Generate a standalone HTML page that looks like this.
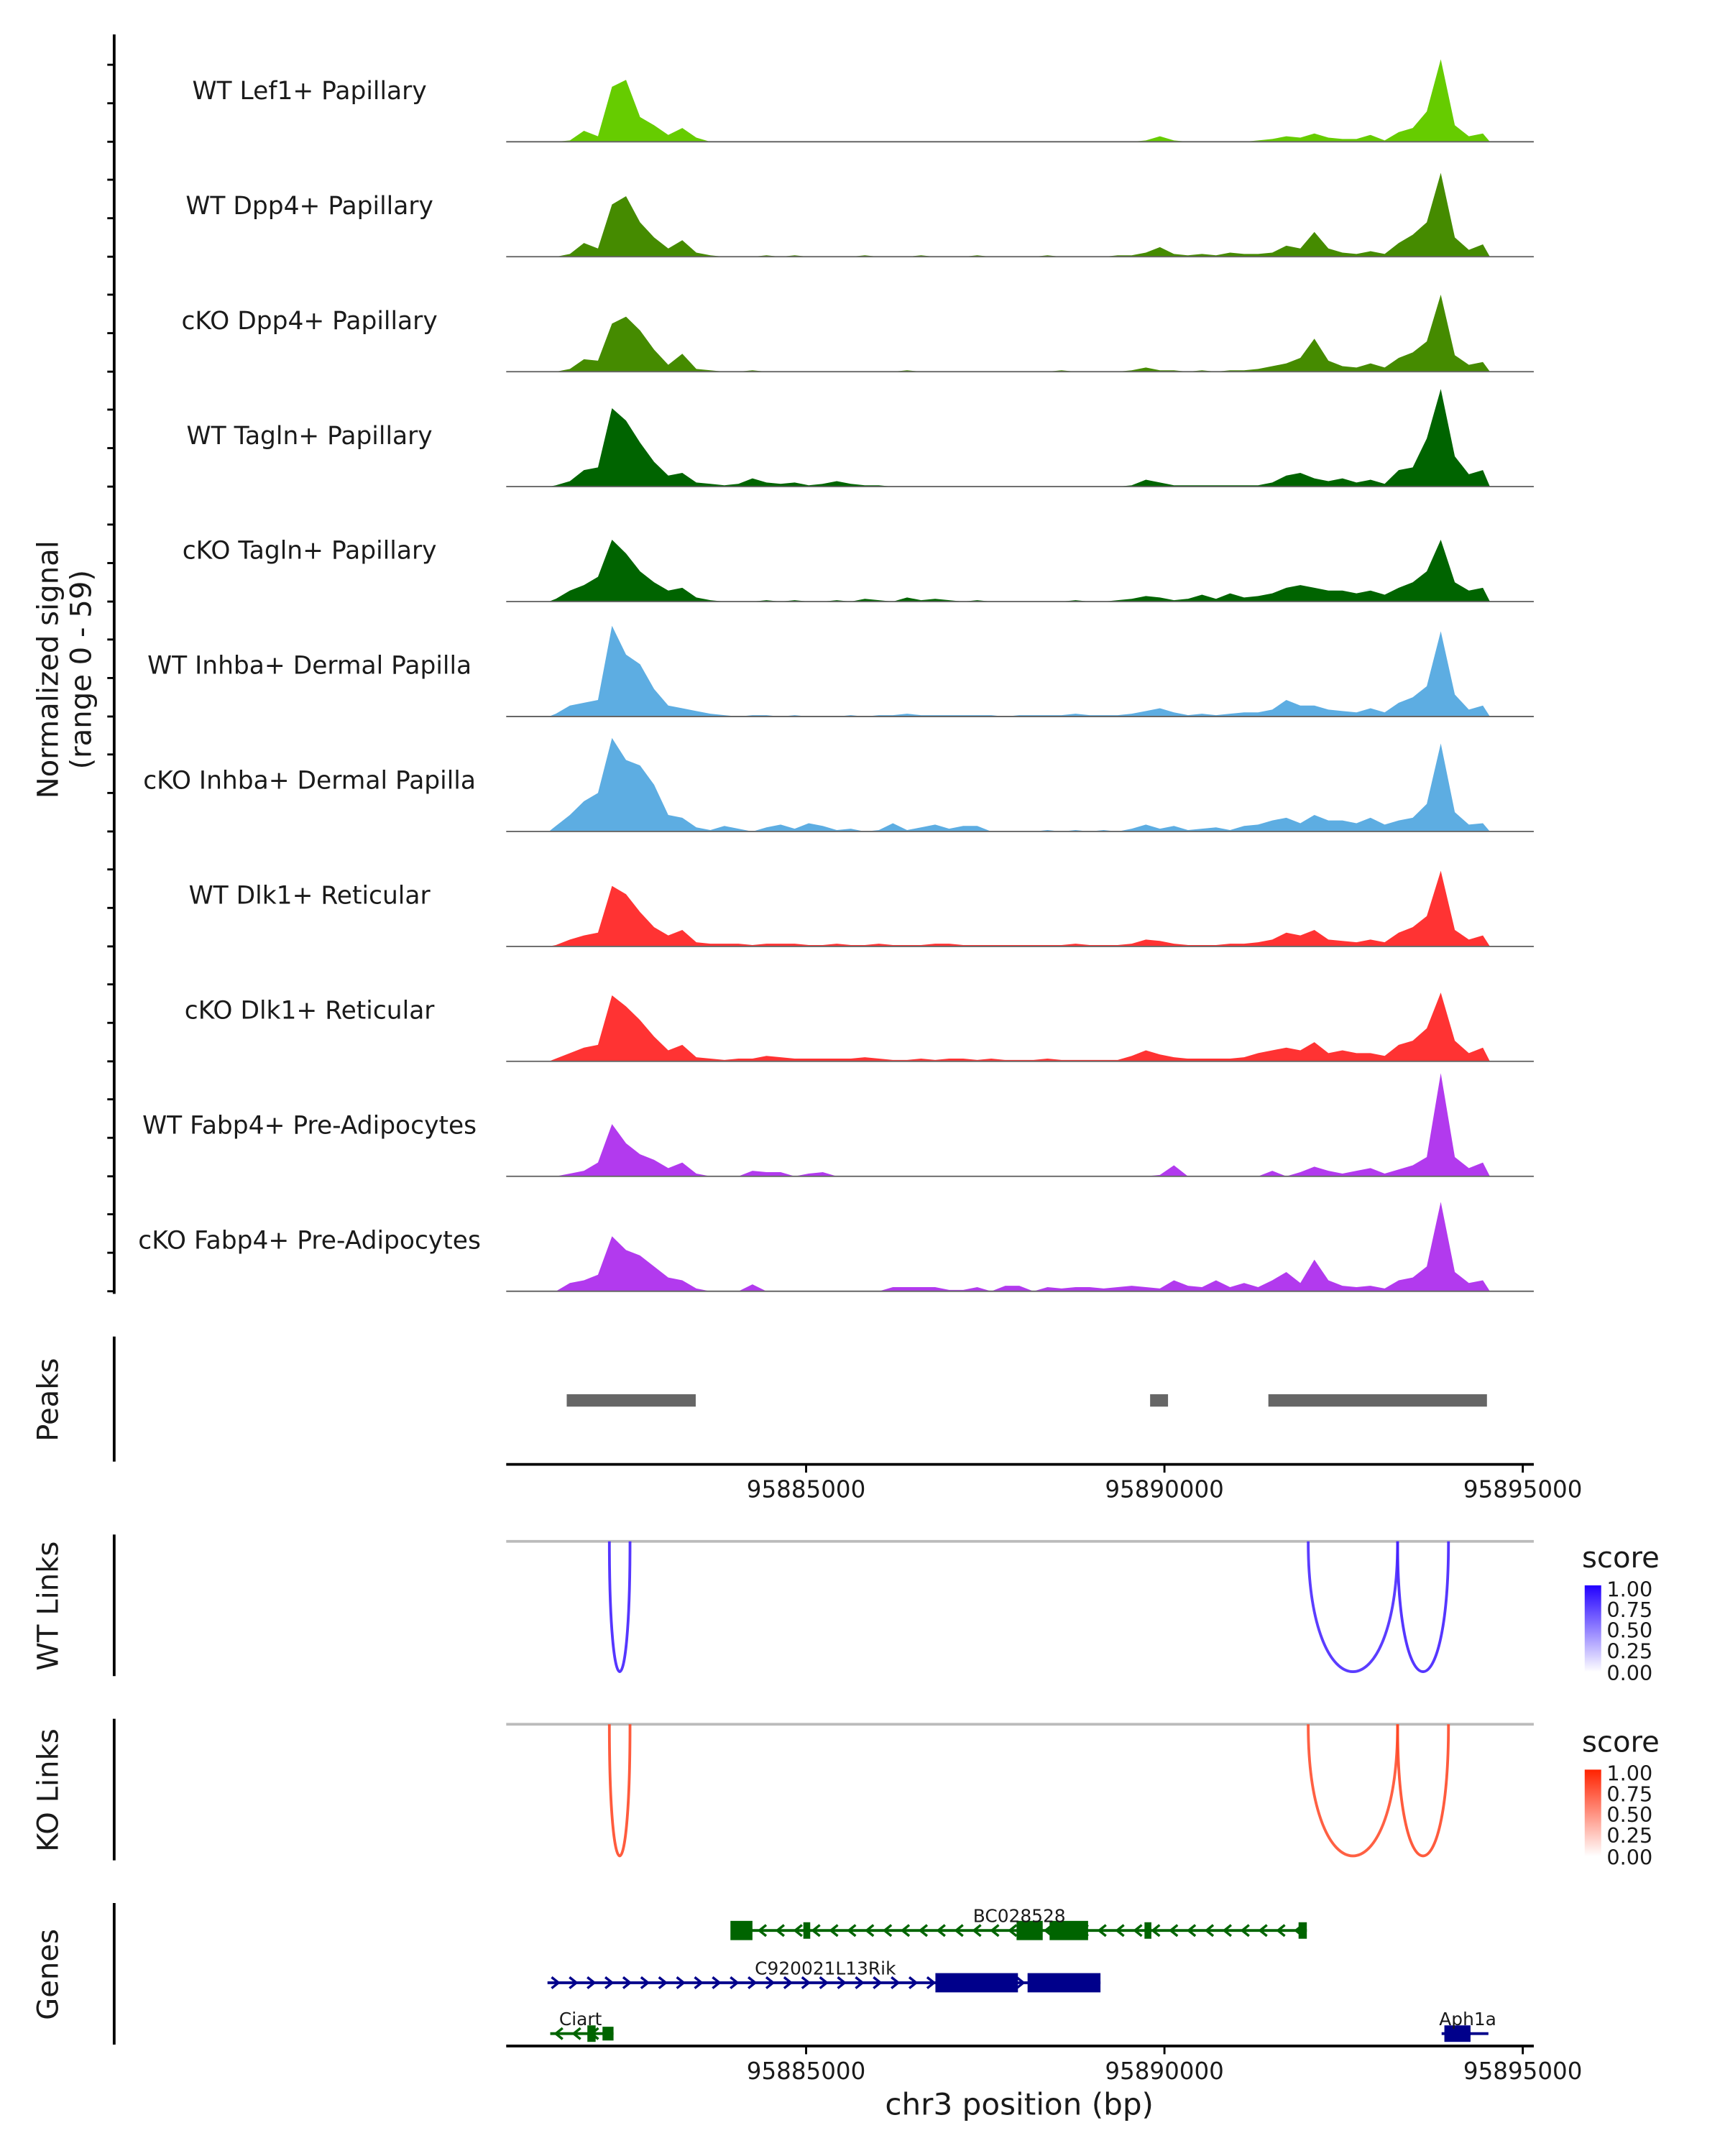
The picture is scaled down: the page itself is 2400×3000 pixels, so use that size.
<!DOCTYPE html>
<html><head><meta charset="utf-8"><style>
html,body{margin:0;padding:0;background:#fff}
svg{display:block}
text{font-family:"DejaVu Sans","Liberation Sans",sans-serif;fill:#1a1a1a}
</style></head><body>
<svg id="chart" width="2400" height="3000" viewBox="0 0 1254 1568" preserveAspectRatio="none" xmlns="http://www.w3.org/2000/svg">
<defs>
<linearGradient id="gWT" x1="0" y1="1" x2="0" y2="0"><stop offset="0" stop-color="#ffffff"/><stop offset="1" stop-color="#2200ff"/></linearGradient>
<linearGradient id="gKO" x1="0" y1="1" x2="0" y2="0"><stop offset="0" stop-color="#ffffff"/><stop offset="1" stop-color="#ff2200"/></linearGradient>
</defs>
<g id="tracks"></g>
<g id="static">
<text transform="translate(42,487) rotate(-90)" text-anchor="middle" font-size="21">Normalized signal</text>
<text transform="translate(66,487) rotate(-90)" text-anchor="middle" font-size="21">(range 0 - 59)</text>
<line x1="83" y1="25" x2="83" y2="941" stroke="#000" stroke-width="2"/>
<text transform="translate(42,1018) rotate(-90)" text-anchor="middle" font-size="21">Peaks</text>
<line x1="83" y1="972" x2="83" y2="1063" stroke="#000" stroke-width="2"/>
<text transform="translate(42,1168) rotate(-90)" text-anchor="middle" font-size="21">WT Links</text>
<line x1="83" y1="1116" x2="83" y2="1219" stroke="#000" stroke-width="2"/>
<text transform="translate(42,1302) rotate(-90)" text-anchor="middle" font-size="21">KO Links</text>
<line x1="83" y1="1250" x2="83" y2="1353" stroke="#000" stroke-width="2"/>
<text transform="translate(42,1436) rotate(-90)" text-anchor="middle" font-size="21">Genes</text>
<line x1="83" y1="1384" x2="83" y2="1487" stroke="#000" stroke-width="2"/>
<line x1="368" y1="1121" x2="1115" y2="1121" stroke="#bbb" stroke-width="2"/>
<line x1="368" y1="1254" x2="1115" y2="1254" stroke="#bbb" stroke-width="2"/>
<g>
<text x="1150" y="1140" font-size="21">score</text>
<rect x="1152" y="1153" width="12" height="63" fill="url(#gWT)"/>
<text x="1168" y="1161" font-size="15">1.00</text><text x="1168" y="1176" font-size="15">0.75</text><text x="1168" y="1191" font-size="15">0.50</text><text x="1168" y="1206" font-size="15">0.25</text><text x="1168" y="1222" font-size="15">0.00</text>
</g>
<g>
<text x="1150" y="1274" font-size="21">score</text>
<rect x="1152" y="1287" width="12" height="63" fill="url(#gKO)"/>
<text x="1168" y="1295" font-size="15">1.00</text><text x="1168" y="1310" font-size="15">0.75</text><text x="1168" y="1325" font-size="15">0.50</text><text x="1168" y="1340" font-size="15">0.25</text><text x="1168" y="1356" font-size="15">0.00</text>
</g>
<text x="741" y="1538" text-anchor="middle" font-size="22">chr3 position (bp)</text>
</g>
<g id="dyn"></g>
</svg>
<script>
const trackNames = ["WT Lef1+ Papillary","WT Dpp4+ Papillary","cKO Dpp4+ Papillary","WT Tagln+ Papillary","cKO Tagln+ Papillary","WT Inhba+ Dermal Papilla","cKO Inhba+ Dermal Papilla","WT Dlk1+ Reticular","cKO Dlk1+ Reticular","WT Fabp4+ Pre-Adipocytes","cKO Fabp4+ Pre-Adipocytes"];
const trackColors = ["#66cc00","#458b00","#458b00","#006400","#006400","#5dade2","#5dade2","#ff3333","#ff3333","#b23aee","#b23aee"];
const binStart = 95881410;
const binSize = 196;
const sigLef1WT = [0,1,8,4,40,45,18,12,5,10, 3,0,0,0,0,0,0,0,0,0, 0,0,0,0,0,0,0,0,0,0, 0,0,0,0,0,0,0,0,0,0, 0,0,1,4,1,0,0,0,0,0, 1,2,4,3,6,3,2,2,5,1, 7,10,22,60,12,4,6];
const sigDpp4WT = [0,2,10,6,38,44,25,14,6,12, 3,1,0,0,0,1,0,1,0,0, 0,0,1,0,0,0,1,0,0,0, 1,0,0,0,0,1,0,0,0,0, 1,1,3,7,2,1,2,1,3,2, 2,3,8,6,18,6,3,2,4,2, 10,16,25,61,14,5,9];
const sigDpp4KO = [0,2,9,8,35,40,30,16,5,13, 2,1,0,0,1,0,0,0,0,0, 0,0,0,0,0,1,0,0,0,0, 0,0,0,0,0,0,1,0,0,0, 0,1,3,1,1,0,1,0,1,1, 2,4,6,10,24,8,4,3,6,3, 10,14,22,56,12,5,7];
const sigTaglnWT = [1,4,12,14,57,48,32,18,8,10, 3,2,1,2,6,3,2,3,1,2, 4,2,1,1,0,0,0,0,0,0, 0,0,0,0,0,0,0,0,0,0, 0,1,5,3,1,1,1,1,1,1, 1,3,8,10,6,4,6,3,5,2, 12,14,35,71,22,9,12];
const sigTaglnKO = [2,8,12,18,45,35,22,14,8,10, 3,1,0,0,0,1,0,1,0,0, 1,0,2,1,0,3,1,2,1,0, 1,0,0,0,0,0,0,1,0,0, 1,2,4,3,1,2,5,2,6,3, 4,6,10,12,10,8,8,6,8,5, 10,14,22,45,14,8,10];
const sigInhbaWT = [2,8,10,12,66,45,38,20,8,6, 4,2,1,0,1,1,0,1,0,0, 0,1,0,1,1,2,1,1,1,1, 1,1,0,1,1,1,1,2,1,1, 1,2,4,6,3,1,2,1,2,3, 3,5,12,8,8,5,4,3,6,3, 10,14,22,62,16,5,8];
const sigInhbaKO = [4,12,22,28,68,52,48,34,12,10, 3,1,4,2,0,3,5,2,6,4, 1,2,0,1,6,1,3,5,2,4, 4,0,0,0,0,1,0,1,0,1, 0,2,5,2,4,1,2,3,1,4, 5,8,10,6,12,8,8,6,10,5, 8,10,20,64,14,5,6];
const sigDlk1WT = [1,5,8,10,44,38,25,14,8,12, 3,2,2,2,1,2,2,2,1,1, 2,1,1,2,1,1,1,2,2,1, 1,1,1,1,1,1,1,2,1,1, 1,2,5,4,2,1,1,1,2,2, 3,5,10,8,12,5,4,3,5,3, 10,14,22,55,12,5,8];
const sigDlk1KO = [2,6,10,12,48,40,30,18,8,12, 3,2,1,2,2,4,3,2,2,2, 2,2,3,2,1,1,2,1,2,2, 1,2,1,1,1,2,1,1,1,1, 1,4,8,5,3,2,2,2,2,3, 6,8,10,8,14,6,8,6,6,4, 12,15,24,50,15,6,10];
const sigFabp4WT = [0,2,4,10,38,24,16,12,6,10, 2,0,0,0,4,3,3,0,2,3, 0,0,0,0,0,0,0,0,0,0, 0,0,0,0,0,0,0,0,0,0, 0,0,0,1,8,0,0,0,0,0, 0,4,0,3,7,4,2,4,6,2, 5,8,14,75,14,6,10];
const sigFabp4KO = [0,6,8,12,40,30,26,18,10,8, 2,0,0,0,5,0,0,0,0,0, 0,0,0,0,3,3,3,3,1,1, 3,0,4,4,0,3,2,3,3,2, 3,4,3,2,8,4,3,8,3,6, 3,8,14,6,23,8,4,3,4,2, 8,10,18,65,14,6,8];
const signals = [sigLef1WT,sigDpp4WT,sigDpp4KO,sigTaglnWT,sigTaglnKO,sigInhbaWT,sigInhbaKO,sigDlk1WT,sigDlk1KO,sigFabp4WT,sigFabp4KO];
const xTicks = [95885000,95890000,95895000];
const xTickLabels = ["95885000","95890000","95895000"];
const peakStarts = [95881660,95889800,95891450];
const peakEnds = [95883460,95890050,95894500];
const wtLinkStarts = [95882255,95892006,95893253];
const wtLinkEnds = [95882543,95893253,95893963];
const wtLinkScores = [0.85,0.8,0.85];
const koLinkStarts = [95882255,95892006,95893253];
const koLinkEnds = [95882543,95893253,95893963];
const koLinkScores = [0.8,0.75,0.8];

const NS="http://www.w3.org/2000/svg";
const X0=586, XG0=95885000, PXPB=0.0521;
function xs(p){return X0+(p-XG0)*PXPB;}
const yUnit = 1;
const dyn=document.getElementById('dyn');
function mk(tag,attrs,parent){const e=document.createElementNS(NS,tag);for(const k in attrs)e.setAttribute(k,attrs[k]);(parent||dyn).appendChild(e);return e;}

const trackTop=20, trackH=83.6;
signals.forEach((vals,t)=>{
  const base=trackTop+trackH*(t+1)-0.5;
  const g=mk('g',{});
  
  
  let pts=[[xs(binStart),base]];
  vals.forEach((v,i)=>{const cx=xs(binStart+binSize*(i+0.5));pts.push([cx,base-v*yUnit]);});
  pts.push([xs(binStart+binSize*vals.length),base]);
  const area=mk('polygon',{points:pts.map(p=>p[0].toFixed(1)+','+p[1].toFixed(1)).join(' '),fill:trackColors[t]},g);
  
  
  const bl=mk('line',{x1:368,y1:base,x2:1115,y2:base,stroke:'#666','stroke-width':1},g);
  
  
  const lab=mk('text',{x:225,y:base-31,'text-anchor':'middle','font-size':18},g);
  lab.textContent=trackNames[t];
  
  
  [0,28,56].forEach(o=>{const tk=mk('line',{x1:78,y1:base-o,x2:83,y2:base-o,stroke:'#000','stroke-width':1.5},g);
    
    });
});

peakStarts.forEach((s,i)=>{
  const r=mk('rect',{x:xs(s),y:1014,width:xs(peakEnds[i])-xs(s),height:9,fill:'#666'});
  
  
});
[1065,1488].forEach((ay,ai)=>{
  const ax=mk('line',{x1:368,y1:ay,x2:1115,y2:ay,stroke:'#000','stroke-width':2});
  
  
  xTicks.forEach((p,i)=>{
    const tk=mk('line',{x1:xs(p),y1:ay,x2:xs(p),y2:ay+6,stroke:'#000','stroke-width':1.5});
    
    
    const tl=mk('text',{x:xs(p),y:ay+24,'text-anchor':'middle','font-size':17,fill:'#333'});
    tl.textContent=xTickLabels[i];
    
    
  });
});
function links(starts,ends,scores,base,depth,col){
  starts.forEach((s,i)=>{
    const a=xs(s),b=xs(ends[i]);
    const d=depth;
    const p=mk('path',{d:`M${a},${base} C${a},${base+d*1.33} ${b},${base+d*1.33} ${b},${base}`,fill:'none',stroke:col,'stroke-width':2,'stroke-opacity':0.4+0.6*scores[i]});
    
    
  });
}
links(wtLinkStarts,wtLinkEnds,wtLinkScores,1121,95,'#4422ff');
links(koLinkStarts,koLinkEnds,koLinkScores,1254,96,'#ff4422');

function gene(name,x1,x2,y,col,dir,exons,label,lx){
  const g=mk('g',{});
  
  
  mk('line',{x1:x1,y1:y,x2:x2,y2:y,stroke:col,'stroke-width':2},g);
  for(let x=x1+6;x<x2-4;x+=13){
    const c=dir>0?`M${x-3},${y-4} L${x+2},${y} L${x-3},${y+4}`:`M${x+3},${y-4} L${x-2},${y} L${x+3},${y+4}`;
    mk('path',{d:c,fill:'none',stroke:col,'stroke-width':1.8},g);
  }
  exons.forEach(e=>mk('rect',{x:e[0],y:y-e[2]/2,width:e[1]-e[0],height:e[2],fill:col},g));
  const t=mk('text',{x:lx,y:y-6,'text-anchor':'middle','font-size':13},g);
  t.textContent=label;
}
gene('BC028528',535,950,1404,'#006400',-1,[[531,547,14],[584,589,12],[739,758,14],[763,791,14],[832,837,12],[944,950,12]],'BC028528',741);
gene('C920021L13Rik',398,800,1442,'#00008b',1,[[680,740,14],[747,800,14]],'C920021L13Rik',600);
gene('Ciart',400,446,1479,'#006400',-1,[[427,433,12],[438,446,10]],'Ciart',422);
gene('Aph1a',1048,1082,1479,'#00008b',1,[[1050,1069,12]],'Aph1a',1067);
</script>
</body></html>
